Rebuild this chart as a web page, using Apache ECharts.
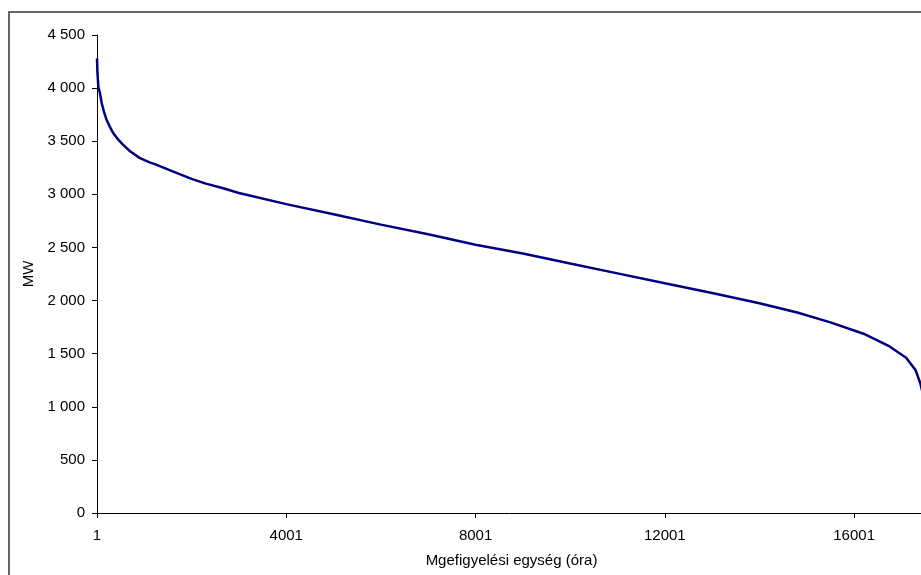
<!DOCTYPE html>
<html>
<head>
<meta charset="utf-8">
<script src="https://cdn.jsdelivr.net/npm/echarts@6/dist/echarts.min.js"></script>
<style>
html,body{margin:0;padding:0;background:#fff;}
#chart{width:921px;height:575px;}
</style>
</head>
<body>
<div id="chart"></div>
<script>
var hours = [1, 10, 30, 65, 100, 150, 200, 270, 350, 450, 550, 700, 900, 1100, 1250, 1600, 2000, 2300, 2650, 3000,
  4000, 5000, 6000, 7000, 8000, 9000, 10000, 11000, 12000, 13000, 14000, 14800, 15500,
  16200, 16750, 17100, 17300, 17400, 17520];
var loadMW = [4280, 4150, 4010, 3950, 3860, 3775, 3705, 3638, 3572, 3515, 3468, 3405, 3343, 3303, 3279, 3216, 3146, 3101, 3059, 3013,
  2908, 2813, 2715, 2624, 2526, 2443, 2349, 2256, 2162, 2071, 1975, 1887, 1795,
  1688, 1568, 1462, 1345, 1220, 1000];
var xTickLabels = ['1', '4001', '8001', '12001', '16001'];
var xAxisTitle = 'Mgefigyelési egység (óra)';
var yAxisTitle = 'MW';

var seriesData = hours.map(function (h, i) { return [h - 1, loadMW[i]]; });
var FONT = '"Liberation Sans", Arial, sans-serif';

var chart = echarts.init(document.getElementById('chart'), null, {renderer: 'canvas'});
chart.setOption({
  animation: false,
  backgroundColor: '#ffffff',
  graphic: [{
    type: 'rect',
    silent: true,
    shape: {x: 9, y: 12, width: 1200, height: 1000},
    style: {fill: 'none', stroke: '#333333', lineWidth: 1.5}
  }],
  grid: {left: 97, width: 829, top: 35, bottom: 62, containLabel: false, outerBoundsMode: 'none'},
  xAxis: {
    type: 'value',
    min: 0,
    max: 17519,
    interval: 4000,
    name: xAxisTitle,
    nameLocation: 'middle',
    nameGap: 40,
    nameTextStyle: {color: '#000', fontSize: 15, fontFamily: FONT},
    axisLine: {show: true, onZero: false, lineStyle: {color: '#000', width: 1}},
    axisTick: {show: true, inside: false, length: 5, lineStyle: {color: '#000'}},
    splitLine: {show: false},
    axisLabel: {
      color: '#000', fontSize: 15, fontFamily: FONT, margin: 15,
      showMaxLabel: false,
      formatter: function (v) { return xTickLabels[Math.round(v / 4000)] || ''; }
    }
  },
  yAxis: {
    type: 'value',
    min: 0,
    max: 4500,
    interval: 500,
    name: yAxisTitle,
    nameLocation: 'middle',
    nameGap: 58,
    nameTextStyle: {color: '#000', fontSize: 15, fontFamily: FONT},
    axisLine: {show: true, lineStyle: {color: '#000', width: 1}},
    axisTick: {show: true, inside: false, length: 5, lineStyle: {color: '#000'}},
    splitLine: {show: false},
    axisLabel: {
      color: '#000', fontSize: 15, fontFamily: FONT, margin: 12,
      formatter: function (v) { return String(v).replace(/\B(?=(\d{3})+(?!\d))/g, ' '); }
    }
  },
  series: [{
    type: 'line',
    data: seriesData,
    showSymbol: false,
    symbol: 'none',
    smooth: false,
    clip: true,
    lineStyle: {color: '#000080', width: 2.5}
  }]
});
</script>
</body>
</html>
